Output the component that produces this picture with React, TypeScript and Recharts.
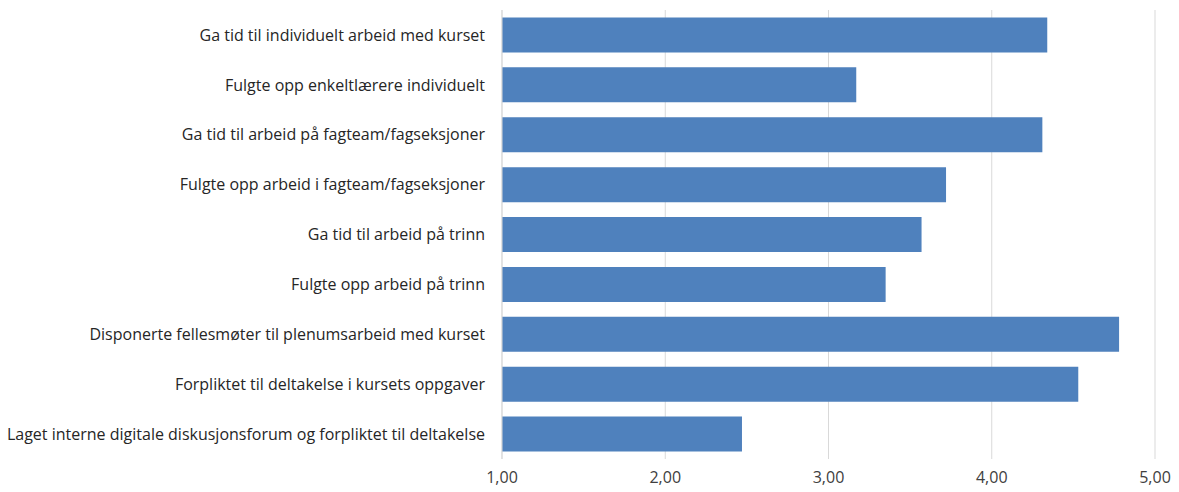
import React from "react";
import { BarChart, Bar, XAxis, YAxis, CartesianGrid } from "recharts";

const categories: string[] = [
  "Ga tid til individuelt arbeid med kurset",
  "Fulgte opp enkeltlærere individuelt",
  "Ga tid til arbeid på fagteam/fagseksjoner",
  "Fulgte opp arbeid i fagteam/fagseksjoner",
  "Ga tid til arbeid på trinn",
  "Fulgte opp arbeid på trinn",
  "Disponerte fellesmøter til plenumsarbeid med kurset",
  "Forpliktet til deltakelse i kursets oppgaver",
  "Laget interne digitale diskusjonsforum og forpliktet til deltakelse",
];

const values: number[] = [4.34, 3.17, 4.31, 3.72, 3.57, 3.35, 4.78, 4.53, 2.47];

const xTicks: number[] = [1, 2, 3, 4, 5];

const data = categories.map((name, i) => ({ name, value: values[i] }));

const FONT = "'Open Sans', 'Noto Sans', sans-serif";

export default function App() {
  return (
    <div style={{ position: "absolute", left: 0, top: 0, background: "#fff" }}>
      <BarChart
        width={1179}
        height={492}
        data={data}
        layout="vertical"
        margin={{ top: 10, right: 24, left: 0, bottom: 0 }}
        barCategoryGap="15%"
      >
        <CartesianGrid horizontal={false} vertical={true} stroke="#d9d9d9" />
        <XAxis
          type="number"
          domain={[1, 5]}
          ticks={xTicks}
          height={33}
          axisLine={false}
          tickLine={false}
          tickSize={0}
          tickMargin={13}
          tickFormatter={(v: number) => v.toFixed(2).replace(".", ",")}
          tick={{ fontFamily: FONT, fontSize: 16, fill: "#404040" }}
        />
        <YAxis
          type="category"
          dataKey="name"
          width={502}
          axisLine={{ stroke: "#d9d9d9" }}
          tickLine={false}
          tickSize={0}
          tickMargin={17}
          interval={0}
          tick={{ fontFamily: FONT, fontSize: 16, fill: "#262626" }}
        />
        <Bar dataKey="value" fill="#4f81bd" isAnimationActive={false} />
      </BarChart>
    </div>
  );
}
